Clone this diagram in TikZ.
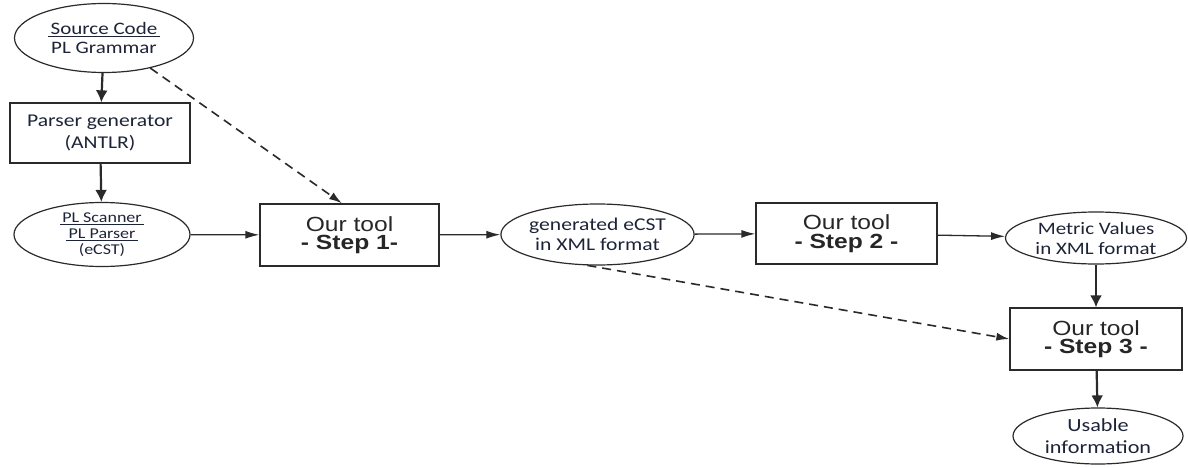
\documentclass[tikz,border=0pt]{standalone}
\usepackage{fontspec}
\setmainfont[FakeStretch=1.2]{Carlito}
\newfontfamily\arialf[FakeStretch=1.2]{Liberation Sans}
\usetikzlibrary{arrows.meta,shapes.geometric}
\definecolor{txt}{HTML}{1E2438}
\definecolor{ln}{HTML}{2A2A2A}
\begin{document}
\begin{tikzpicture}[x=1pt,y=-1pt,
  ell/.style={draw=ln,ellipse,line width=1.2pt,inner sep=0pt,minimum width=#1,align=center,text=txt,font=\fontsize{18}{20}\selectfont},
  box/.style={draw=ln,rectangle,line width=1.3pt,inner sep=0pt,align=center,text=black!85},
  tool/.style={box,font=\arialf\fontsize{20.5}{18.5}\selectfont},
  harrow/.style={draw=ln,-{Latex[length=14pt,width=8pt]},line width=1.3pt},
  varrow/.style={draw=ln,-{Latex[length=12pt,width=12pt]},line width=2.2pt},
  darrow/.style={draw=ln,-{Latex[length=13pt,width=8pt]},line width=1.6pt,dash pattern=on 9pt off 6pt}]
\useasboundingbox (0,0) rectangle (1188,468);
\node[ell=179pt,minimum height=69pt,font=\fontsize{17.5}{19}\selectfont] (src) at (104,38) {\underline{\,Source Code\,}\\[0pt]PL Grammar};
\node[box,minimum width=180pt,minimum height=60pt,text=txt,font=\fontsize{18}{22}\selectfont] (pg) at (100,133) {Parser generator\\(ANTLR)};
\node[ell=176pt,minimum height=64pt,font=\fontsize{15}{16}\selectfont] (scan) at (102,234.5) {\underline{\,PL Scanner\,}\\\underline{\,PL Parser\,}\\(eCST)};
\node[tool,minimum width=179pt,minimum height=62pt] (s1) at (349.5,235) {Our tool\\\textbf{- Step 1-}};
\node[ell=179pt,minimum height=61pt] (gen) at (597.5,234.5) {generated eCST\\in XML format};
\node[tool,minimum width=181pt,minimum height=61pt] (s2) at (846.5,233.5) {Our tool\\\textbf{- Step 2 -}};
\node[ell=181pt,minimum height=52pt,font=\fontsize{17.5}{20}\selectfont] (met) at (1096,238) {Metric Values\\in XML format};
\node[tool,minimum width=172pt,minimum height=62pt] (s3) at (1096,339) {Our tool\\\textbf{- Step 3 -}};
\node[ell=170pt,minimum height=56pt,font=\fontsize{18.5}{22}\selectfont] (use) at (1098,436) {Usable\\information};
\draw[varrow] (src) -- (pg);
\draw[varrow] (pg) -- (scan);
\draw[harrow] (scan) -- (s1);
\draw[harrow] (s1) -- (gen);
\draw[harrow] (gen) -- (s2);
\draw[harrow] (s2) -- (met);
\draw[varrow] (met.south) -- (s3.north -| met.south);
\draw[varrow] (s3) -- (use);
\draw[darrow] (src.-33) -- (s1.north -| 342,0);
\draw[darrow] (gen.-108) -- (s3.west);
\end{tikzpicture}
\end{document}
